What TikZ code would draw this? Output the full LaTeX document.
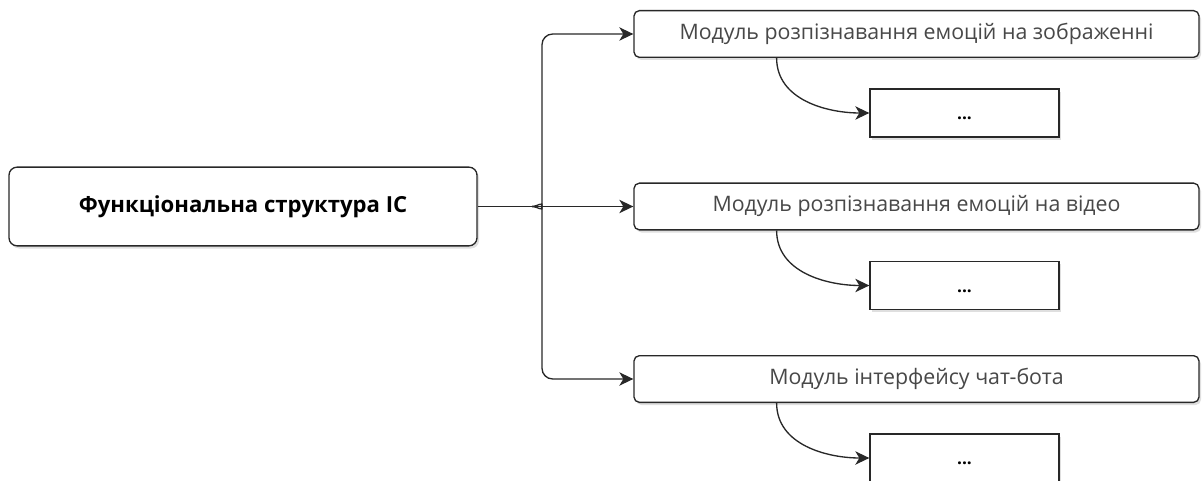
\documentclass[tikz,border=0pt]{standalone}
\usepackage{fontspec}
\setmainfont{Open Sans}
\usetikzlibrary{arrows.meta,shadows,calc}
\definecolor{ink}{RGB}{40,40,40}
\tikzset{
    shade/.style = {drop shadow = {shadow xshift = 1.5pt, shadow yshift = -2pt, opacity = 0.25}},
    mainbox/.style = {draw = ink, line width = 1pt, rounded corners = 6pt, fill = white, shade,
        minimum width = 351pt, minimum height = 59pt, font = \fontsize{16.6}{20}\selectfont\bfseries},
    modbox/.style = {draw = ink, line width = 1pt, rounded corners = 4pt, fill = white, shade,
        minimum width = 423.75pt, minimum height = 35pt, text = ink!85,
        font = \fontsize{16}{19}\selectfont},
    subbox/.style = {draw = ink, line width = 1pt, fill = white, shade, text height = 10pt, text depth = 0pt,
        minimum width = 141.75pt, minimum height = 36pt, font = \fontsize{13}{16}\selectfont\bfseries},
    arr/.style = {draw = ink, line width = 1pt, -{Stealth[length = 10.5pt, width = 10pt, inset = 3pt]}}
}
\begin{document}
\begin{tikzpicture}[x = 0.75pt, y = -0.75pt]
        \useasboundingbox (0, 0) rectangle (1203, 481);
        \node[mainbox] (ic) at (243, 206.5) {Функціональна структура ІС};

        % modules and their sub-boxes
        \foreach \i/\y/\t in {1/34/Модуль розпізнавання емоцій на зображенні,
                              2/206.5/Модуль розпізнавання емоцій на відео,
                              3/379/Модуль інтерфейсу чат-бота} {
            \node[modbox] (m\i) at (916.5, \y) {\t};
            \node[subbox] (s\i) at (964.5, \y + 79) {...};
            \draw[arr] ($(m\i.south west)!0.253!(m\i.south east)$) to[out = -90, in = 180] (s\i.west);
        }

        % brace
        \coordinate (tip) at (532, 206.5);
        \draw[draw = ink, line width = 1pt] (ic.east) -- (tip);
        \draw[arr] (tip) -- (m2.west);
        \draw[arr, rounded corners = 8pt] (tip) to[out = 0, in = -90] ++(10, -11) |- (m1.west);
        \draw[arr, rounded corners = 8pt] (tip) to[out = 0, in = 90] ++(10, 11) |- (m3.west);
    \end{tikzpicture}
\end{document}
